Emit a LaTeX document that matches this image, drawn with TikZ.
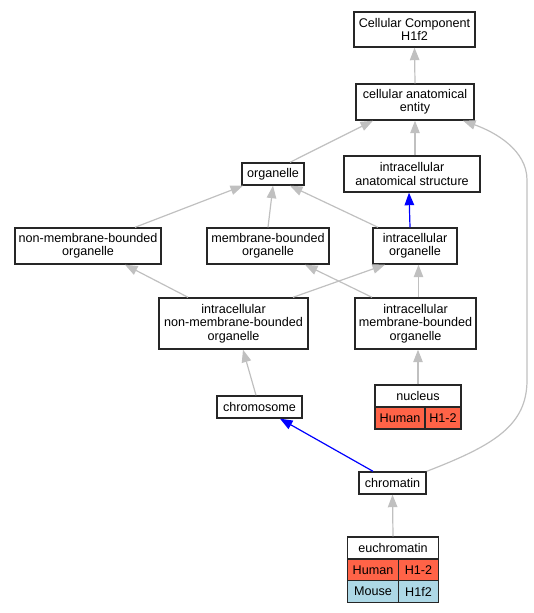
\documentclass[tikz,border=0pt]{standalone}
\usepackage{fontspec}
\setmainfont{Liberation Sans}
\usetikzlibrary{arrows.meta}
\definecolor{edgegray}{HTML}{C0C0C0}
\definecolor{tomatoc}{HTML}{FF6347}
\definecolor{lblue}{HTML}{ADD8E6}
\tikzset{
  box/.style={draw=black!85, line width=1.4pt, fill=white, rectangle, inner sep=0pt, align=center,
    font=\fontsize{12.6}{13.4}\selectfont},
  cell/.style={box, fill=tomatoc},
  mcell/.style={box, fill=lblue},
  edge/.style={draw=edgegray, line width=1.2pt, -{Triangle[length=12.5pt,width=9.5pt]}},
  bedge/.style={draw=blue, line width=1.2pt, -{Triangle[length=12.5pt,width=9.5pt]}},
}
\begin{document}
\begin{tikzpicture}[x=1pt,y=-1pt]
\useasboundingbox (0,0) rectangle (534,613);
\node[box, minimum width=121pt, minimum height=35pt] (cc) at (414.5,29.5) {Cellular Component\\H1f2};
\node[box, minimum width=118pt, minimum height=36pt] (cae) at (415,102) {cellular anatomical\\entity};
\node[box, minimum width=62pt, minimum height=22pt] (org) at (273,174) {organelle};
\node[box, minimum width=136pt, minimum height=36pt] (ias) at (412,174) {intracellular\\anatomical structure};
\node[box, minimum width=146pt, minimum height=36pt] (nmbo) at (88,246) {non-membrane-bounded\\organelle};
\node[box, minimum width=122pt, minimum height=36pt] (mbo) at (268,246) {membrane-bounded\\organelle};
\node[box, minimum width=84pt, minimum height=36pt] (io) at (415,246) {intracellular\\organelle};
\node[box, minimum width=149pt, minimum height=51pt] (inmbo) at (233.5,323.5) {intracellular\\non-membrane-bounded\\organelle};
\node[box, minimum width=121pt, minimum height=51pt] (imbo) at (415.5,323.5) {intracellular\\membrane-bounded\\organelle};
% nucleus table
\node[box, minimum width=86pt, minimum height=22pt] (nuc) at (418,396) {nucleus};
\node[cell, minimum width=50pt, minimum height=22pt] (nuch) at (400,418) {Human};
\node[cell, minimum width=36pt, minimum height=22pt] (nucg) at (443,418) {H1-2};
\node[box, minimum width=85pt, minimum height=22pt] (chrsm) at (259.5,407) {chromosome};
\node[box, minimum width=67pt, minimum height=22pt] (chrom) at (392.5,483) {chromatin};
% euchromatin table
\node[box, minimum width=91pt, minimum height=22pt] (euch) at (393,548) {euchromatin};
\node[cell, minimum width=51pt, minimum height=22pt] (euhh) at (373,570) {Human};
\node[cell, minimum width=40pt, minimum height=22pt] (euhg) at (418.5,570) {H1-2};
\node[mcell, minimum width=51pt, minimum height=21.5pt] (eumh) at (373,591.5) {Mouse};
\node[mcell, minimum width=40pt, minimum height=21.5pt] (eumg) at (418.5,591.5) {H1f2};
% edges
\draw[edge] (cae.north) -- (cc.south);
\draw[edge] ([xshift=17pt]org.north) -- ([xshift=-42pt]cae.south);
\draw[edge] ([xshift=3pt]ias.north) -- (cae.south);
\draw[edge] (chrom.north east) .. controls (495,445) and (527,425) .. (527,380) -- (527,180) .. controls (527,150) and (495,132) .. ([xshift=48pt]cae.south);
\draw[edge] ([xshift=47pt]nmbo.north) -- ([xshift=-30pt]org.south);
\draw[edge] (mbo.north) -- (org.south);
\draw[edge] ([xshift=-37pt]io.north) -- ([xshift=17pt]org.south);
\draw[bedge] ([xshift=-5pt]io.north) -- ([xshift=-3pt]ias.south);
\draw[edge] ([xshift=-45.5pt]inmbo.north) -- ([xshift=37pt]nmbo.south);
\draw[edge] ([xshift=-43.5pt]imbo.north) -- ([xshift=37pt]mbo.south);
\draw[edge] ([xshift=59.5pt]inmbo.north) -- ([xshift=-30pt]io.south);
\draw[edge] ([xshift=3pt]imbo.north) -- ([xshift=3.5pt]io.south);
\draw[edge] ([xshift=-3.5pt]chrsm.north) -- ([xshift=9.5pt]inmbo.south);
\draw[edge] (nuc.north) -- ([xshift=2.5pt]imbo.south);
\draw[bedge] ([xshift=-19.5pt]chrom.north) -- ([xshift=20.5pt]chrsm.south);
\draw[edge] (euch.north) -- (chrom.south);
\end{tikzpicture}
\end{document}
